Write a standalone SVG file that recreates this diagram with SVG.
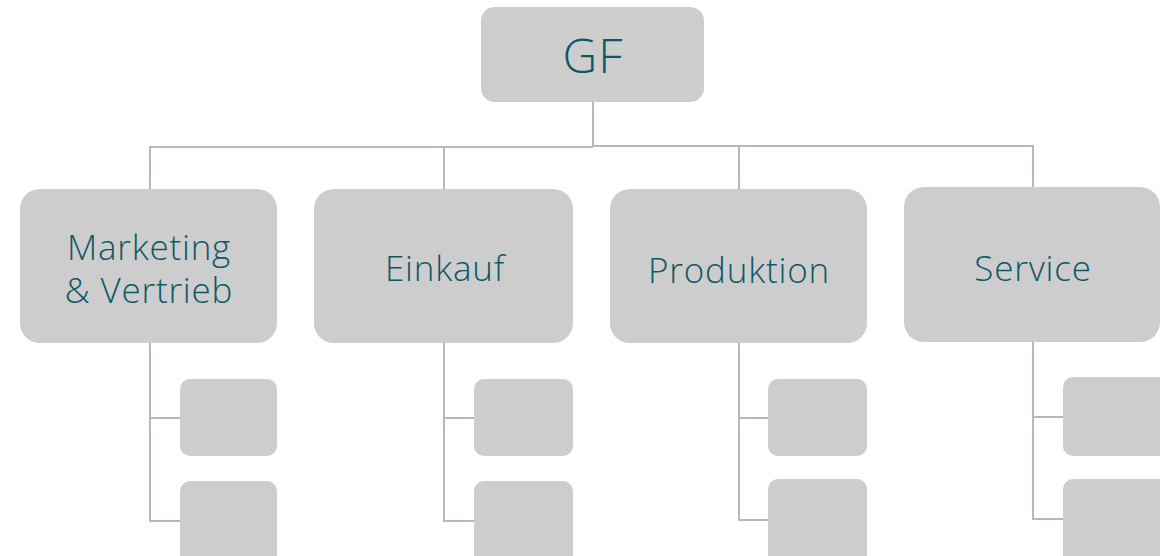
<svg xmlns="http://www.w3.org/2000/svg" width="1160" height="556" viewBox="0 0 1160 556">
  <style>
    .box { fill: #cdcdcd; }
    .sub { fill: #cdcdcd; }
    .lbl { font-family: "Open Sans", "Liberation Sans", sans-serif; font-size: 35px; font-weight: 300; fill: #0d5865; text-anchor: middle; letter-spacing: 0.8px; }
    .top { font-size: 48px; letter-spacing: 1px; }
    .wire { fill: none; stroke: #bdb6b3; stroke-width: 2; }
  </style>
  <rect width="1160" height="556" fill="#ffffff"/>

  <!-- connectors -->
  <g id="connectors">
    <path class="wire" d="M593 102 V147"/>
    <path class="wire" d="M150 189 V147 H593"/>
    <path class="wire" d="M593 146 H1033 V187"/>
    <path class="wire" d="M444 147 V189"/>
    <path class="wire" d="M739 146 V189"/>
    <!-- branches under each department -->
    <path class="wire" d="M150 343 V521 H180 M150 418 H180"/>
    <path class="wire" d="M444 343 V521 H474 M444 418 H474"/>
    <path class="wire" d="M739 343 V520 H768 M739 418 H768"/>
    <path class="wire" d="M1033 342 V519 H1063 M1033 417 H1063"/>
  </g>

  <g id="gf">
    <rect class="box" x="481" y="7" width="223" height="95" rx="14"/>
    <text class="lbl top" x="593" y="73">GF</text>
  </g>

  <g id="marketing">
    <rect class="box" x="20" y="189" width="257" height="154" rx="20"/>
    <text class="lbl" x="149" y="260">Marketing</text>
    <text class="lbl" x="149" y="303">&amp; Vertrieb</text>
  </g>
  <g id="einkauf">
    <rect class="box" x="314" y="189" width="259" height="154" rx="20"/>
    <text class="lbl" x="445" y="281">Einkauf</text>
  </g>
  <g id="produktion">
    <rect class="box" x="610" y="189" width="257" height="154" rx="20"/>
    <text class="lbl" x="739" y="283">Produktion</text>
  </g>
  <g id="service">
    <rect class="box" x="904" y="187" width="256" height="155" rx="20"/>
    <text class="lbl" x="1033" y="281">Service</text>
  </g>

  <g id="marketing-sub1"><rect class="sub" x="180" y="379" width="97" height="77" rx="10"/></g>
  <g id="marketing-sub2"><rect class="sub" x="180" y="481" width="97" height="85" rx="10"/></g>
  <g id="einkauf-sub1"><rect class="sub" x="474" y="379" width="99" height="77" rx="10"/></g>
  <g id="einkauf-sub2"><rect class="sub" x="474" y="481" width="99" height="85" rx="10"/></g>
  <g id="produktion-sub1"><rect class="sub" x="768" y="379" width="99" height="77" rx="10"/></g>
  <g id="produktion-sub2"><rect class="sub" x="768" y="479" width="99" height="87" rx="10"/></g>
  <g id="service-sub1"><rect class="sub" x="1063" y="377" width="107" height="79" rx="10"/></g>
  <g id="service-sub2"><rect class="sub" x="1063" y="479" width="107" height="87" rx="10"/></g>
</svg>
